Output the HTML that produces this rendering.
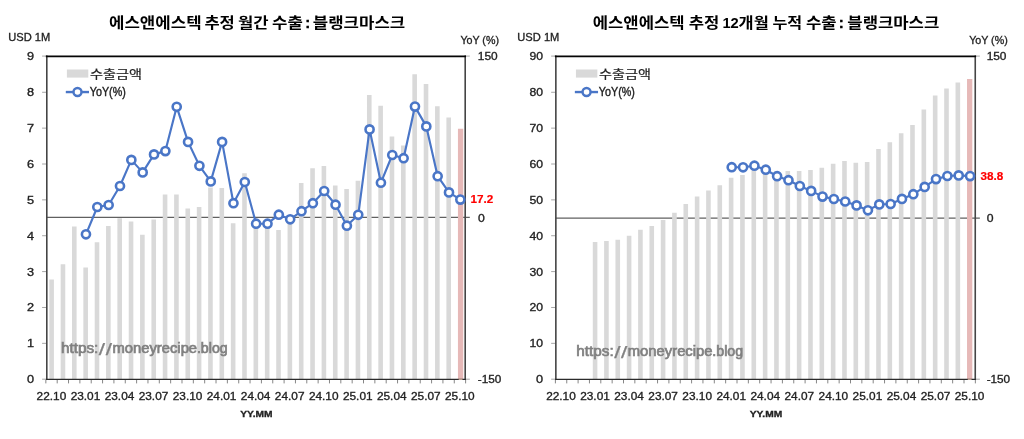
<!DOCTYPE html>
<html lang="ko"><head><meta charset="utf-8"><title>에스앤에스텍 추정 수출 : 블랭크마스크</title>
<style>html,body{margin:0;padding:0;background:#fff}body{width:1024px;height:439px;overflow:hidden}svg{display:block}text{white-space:pre}</style>
</head><body>
<svg width="1024" height="439" viewBox="0 0 1024 439" font-family='"Liberation Sans", "Noto Sans CJK KR", sans-serif'>
<rect width="1024" height="439" fill="#fff"/>
<g>
<line x1="46.7" y1="217.4" x2="469.8" y2="217.4" stroke="#606060" stroke-width="1.2"/>
<path d="M49.32 279.6h4.6V379.2h-4.6zM60.67 264.3h4.6V379.2h-4.6zM72.01 226.4h4.6V379.2h-4.6zM83.36 267.4h4.6V379.2h-4.6zM94.7 242.2h4.6V379.2h-4.6zM106.05 226h4.6V379.2h-4.6zM117.39 218.2h4.6V379.2h-4.6zM128.74 221.5h4.6V379.2h-4.6zM140.08 234.8h4.6V379.2h-4.6zM151.43 219.5h4.6V379.2h-4.6zM162.77 194.5h4.6V379.2h-4.6zM174.12 194.5h4.6V379.2h-4.6zM185.46 208.6h4.6V379.2h-4.6zM196.81 207h4.6V379.2h-4.6zM208.15 187.5h4.6V379.2h-4.6zM219.5 188h4.6V379.2h-4.6zM230.84 223.3h4.6V379.2h-4.6zM242.19 173.2h4.6V379.2h-4.6zM253.53 222h4.6V379.2h-4.6zM264.88 222h4.6V379.2h-4.6zM276.22 230h4.6V379.2h-4.6zM287.57 222h4.6V379.2h-4.6zM298.91 183h4.6V379.2h-4.6zM310.26 168.3h4.6V379.2h-4.6zM321.6 166h4.6V379.2h-4.6zM332.95 185.6h4.6V379.2h-4.6zM344.29 188.9h4.6V379.2h-4.6zM355.64 180.7h4.6V379.2h-4.6zM366.98 94.9h4.6V379.2h-4.6zM378.33 105.7h4.6V379.2h-4.6zM389.67 136.6h4.6V379.2h-4.6zM401.02 145.4h4.6V379.2h-4.6zM412.36 74.3h4.6V379.2h-4.6zM423.71 84.1h4.6V379.2h-4.6zM435.05 106.2h4.6V379.2h-4.6zM446.4 117.6h4.6V379.2h-4.6z" fill="#d9d9d9"/>
<path d="M457.94 128.8h5.3V379.2h-5.3z" fill="#e6b9b8"/>
<path d="M45.85 379.2v4.2M57.2 379.2v4.2M68.54 379.2v4.2M79.88 379.2v4.2M91.23 379.2v4.2M102.57 379.2v4.2M113.92 379.2v4.2M125.27 379.2v4.2M136.61 379.2v4.2M147.96 379.2v4.2M159.3 379.2v4.2M170.65 379.2v4.2M181.99 379.2v4.2M193.34 379.2v4.2M204.68 379.2v4.2M216.03 379.2v4.2M227.37 379.2v4.2M238.72 379.2v4.2M250.06 379.2v4.2M261.41 379.2v4.2M272.75 379.2v4.2M284.1 379.2v4.2M295.44 379.2v4.2M306.79 379.2v4.2M318.13 379.2v4.2M329.48 379.2v4.2M340.82 379.2v4.2M352.17 379.2v4.2M363.51 379.2v4.2M374.86 379.2v4.2M386.2 379.2v4.2M397.55 379.2v4.2M408.89 379.2v4.2M420.24 379.2v4.2M431.58 379.2v4.2M442.93 379.2v4.2M454.27 379.2v4.2M465.62 379.2v4.2" stroke="#868686" stroke-width="1" fill="none"/>
<path d="M42.1 379.2h4.6M42.1 343.33h4.6M42.1 307.47h4.6M42.1 271.6h4.6M42.1 235.73h4.6M42.1 199.87h4.6M42.1 164h4.6M42.1 128.13h4.6M42.1 92.27h4.6M42.1 56.1h4.6M465.2 56.1h4.6M465.2 379.2h4.6" stroke="#a6a6a6" stroke-width="1" fill="none"/>
<path d="M46.8 379.2V56.4M465.2 56.4V379.2" stroke="#454545" stroke-width="1.6" fill="none" stroke-linecap="square"/>
<path d="M46.7 56.3H465.2" stroke="#050505" stroke-width="1.7" fill="none" stroke-linecap="square"/>
<path d="M46.7 379.35H465.2" stroke="#2b2b2b" stroke-width="1.2" fill="none" stroke-linecap="square"/>
<rect x="458.69" y="378.6" width="3.8" height="1.3" fill="#c9a99a"/>
<polyline points="85.96,234.3 97.3,207 108.65,205 119.99,186 131.34,159.9 142.68,172.4 154.03,154.4 165.37,151.1 176.72,106.8 188.06,141.9 199.41,165.8 210.75,181.4 222.1,141.9 233.44,203.2 244.79,182 256.13,223.7 267.48,223.7 278.82,214.7 290.17,219.3 301.51,211.2 312.86,203.2 324.2,191 335.55,204.7 346.89,225.7 358.24,214.8 369.58,129.4 380.93,182.7 392.27,155 403.62,158.2 414.96,106.6 426.31,126.4 437.65,176.2 449,192.4 460.34,199.6" fill="none" stroke="#4a76c7" stroke-width="2.15" stroke-linejoin="round"/>
<g fill="#fff" stroke="#4a76c7" stroke-width="2.6">
<circle cx="85.96" cy="234.3" r="4.05"/>
<circle cx="97.3" cy="207" r="4.05"/>
<circle cx="108.65" cy="205" r="4.05"/>
<circle cx="119.99" cy="186" r="4.05"/>
<circle cx="131.34" cy="159.9" r="4.05"/>
<circle cx="142.68" cy="172.4" r="4.05"/>
<circle cx="154.03" cy="154.4" r="4.05"/>
<circle cx="165.37" cy="151.1" r="4.05"/>
<circle cx="176.72" cy="106.8" r="4.05"/>
<circle cx="188.06" cy="141.9" r="4.05"/>
<circle cx="199.41" cy="165.8" r="4.05"/>
<circle cx="210.75" cy="181.4" r="4.05"/>
<circle cx="222.1" cy="141.9" r="4.05"/>
<circle cx="233.44" cy="203.2" r="4.05"/>
<circle cx="244.79" cy="182" r="4.05"/>
<circle cx="256.13" cy="223.7" r="4.05"/>
<circle cx="267.48" cy="223.7" r="4.05"/>
<circle cx="278.82" cy="214.7" r="4.05"/>
<circle cx="290.17" cy="219.3" r="4.05"/>
<circle cx="301.51" cy="211.2" r="4.05"/>
<circle cx="312.86" cy="203.2" r="4.05"/>
<circle cx="324.2" cy="191" r="4.05"/>
<circle cx="335.55" cy="204.7" r="4.05"/>
<circle cx="346.89" cy="225.7" r="4.05"/>
<circle cx="358.24" cy="214.8" r="4.05"/>
<circle cx="369.58" cy="129.4" r="4.05"/>
<circle cx="380.93" cy="182.7" r="4.05"/>
<circle cx="392.27" cy="155" r="4.05"/>
<circle cx="403.62" cy="158.2" r="4.05"/>
<circle cx="414.96" cy="106.6" r="4.05"/>
<circle cx="426.31" cy="126.4" r="4.05"/>
<circle cx="437.65" cy="176.2" r="4.05"/>
<circle cx="449" cy="192.4" r="4.05"/>
<circle cx="460.34" cy="199.6" r="4.05"/>
</g>
<g font-family='"Liberation Sans", "Noto Sans CJK KR", sans-serif' fill="#222222">
<text x="26.92" y="383.1" font-size="11" stroke="#222222" stroke-width="0.33" textLength="7.08" lengthAdjust="spacingAndGlyphs">0</text>
<text x="26.92" y="347.23" font-size="11" stroke="#222222" stroke-width="0.33" textLength="7.08" lengthAdjust="spacingAndGlyphs">1</text>
<text x="26.92" y="311.37" font-size="11" stroke="#222222" stroke-width="0.33" textLength="7.08" lengthAdjust="spacingAndGlyphs">2</text>
<text x="26.92" y="275.5" font-size="11" stroke="#222222" stroke-width="0.33" textLength="7.08" lengthAdjust="spacingAndGlyphs">3</text>
<text x="26.92" y="239.63" font-size="11" stroke="#222222" stroke-width="0.33" textLength="7.08" lengthAdjust="spacingAndGlyphs">4</text>
<text x="26.92" y="203.77" font-size="11" stroke="#222222" stroke-width="0.33" textLength="7.08" lengthAdjust="spacingAndGlyphs">5</text>
<text x="26.92" y="167.9" font-size="11" stroke="#222222" stroke-width="0.33" textLength="7.08" lengthAdjust="spacingAndGlyphs">6</text>
<text x="26.92" y="132.03" font-size="11" stroke="#222222" stroke-width="0.33" textLength="7.08" lengthAdjust="spacingAndGlyphs">7</text>
<text x="26.92" y="96.17" font-size="11" stroke="#222222" stroke-width="0.33" textLength="7.08" lengthAdjust="spacingAndGlyphs">8</text>
<text x="26.92" y="60.3" font-size="11" stroke="#222222" stroke-width="0.33" textLength="7.08" lengthAdjust="spacingAndGlyphs">9</text>
<text x="477.8" y="60.1" font-size="11" stroke="#222222" stroke-width="0.33" textLength="19.85" lengthAdjust="spacingAndGlyphs">150</text>
<text x="478" y="221.5" font-size="11" stroke="#222222" stroke-width="0.33" textLength="6.8" lengthAdjust="spacingAndGlyphs">0</text>
<text x="477.8" y="382.6" font-size="11" stroke="#222222" stroke-width="0.33" textLength="23.52" lengthAdjust="spacingAndGlyphs">-150</text>
<text x="8.3" y="40.6" font-size="11.4" stroke="#222222" stroke-width="0.33" textLength="42" lengthAdjust="spacingAndGlyphs">USD 1M</text>
<text x="460.4" y="44.4" font-size="11.4" stroke="#222222" stroke-width="0.33" textLength="38.6" lengthAdjust="spacingAndGlyphs">YoY (%)</text>
<text x="36.62" y="399.6" font-size="11" stroke="#222222" stroke-width="0.33" textLength="29.6" lengthAdjust="spacingAndGlyphs">22.10</text>
<text x="70.66" y="399.6" font-size="11" stroke="#222222" stroke-width="0.33" textLength="29.6" lengthAdjust="spacingAndGlyphs">23.01</text>
<text x="104.69" y="399.6" font-size="11" stroke="#222222" stroke-width="0.33" textLength="29.6" lengthAdjust="spacingAndGlyphs">23.04</text>
<text x="138.73" y="399.6" font-size="11" stroke="#222222" stroke-width="0.33" textLength="29.6" lengthAdjust="spacingAndGlyphs">23.07</text>
<text x="172.76" y="399.6" font-size="11" stroke="#222222" stroke-width="0.33" textLength="29.6" lengthAdjust="spacingAndGlyphs">23.10</text>
<text x="206.8" y="399.6" font-size="11" stroke="#222222" stroke-width="0.33" textLength="29.6" lengthAdjust="spacingAndGlyphs">24.01</text>
<text x="240.83" y="399.6" font-size="11" stroke="#222222" stroke-width="0.33" textLength="29.6" lengthAdjust="spacingAndGlyphs">24.04</text>
<text x="274.87" y="399.6" font-size="11" stroke="#222222" stroke-width="0.33" textLength="29.6" lengthAdjust="spacingAndGlyphs">24.07</text>
<text x="308.9" y="399.6" font-size="11" stroke="#222222" stroke-width="0.33" textLength="29.6" lengthAdjust="spacingAndGlyphs">24.10</text>
<text x="342.94" y="399.6" font-size="11" stroke="#222222" stroke-width="0.33" textLength="29.6" lengthAdjust="spacingAndGlyphs">25.01</text>
<text x="376.97" y="399.6" font-size="11" stroke="#222222" stroke-width="0.33" textLength="29.6" lengthAdjust="spacingAndGlyphs">25.04</text>
<text x="411.01" y="399.6" font-size="11" stroke="#222222" stroke-width="0.33" textLength="29.6" lengthAdjust="spacingAndGlyphs">25.07</text>
<text x="445.04" y="399.6" font-size="11" stroke="#222222" stroke-width="0.33" textLength="29.6" lengthAdjust="spacingAndGlyphs">25.10</text>
<text x="240.25" y="416.8" font-size="9.2" stroke="#222222" stroke-width="0.33" font-weight="bold" textLength="32.4" lengthAdjust="spacingAndGlyphs">YY.MM</text>
<text x="470.4" y="203.2" font-size="11.4" stroke="#ff0000" stroke-width="0.2" font-weight="bold" fill="#ff0000" textLength="22.8" lengthAdjust="spacingAndGlyphs">17.2</text>
<text font-size="14.4" fill="#808080" stroke="#808080" stroke-width="0.7"><tspan x="60.9" y="352.8" textLength="37.4" lengthAdjust="spacingAndGlyphs">https:</tspan><tspan x="98.8" y="355.2" textLength="6.3" lengthAdjust="spacingAndGlyphs" font-size="17" stroke-width="0.25">/</tspan><tspan x="105.7" y="355.2" textLength="6.3" lengthAdjust="spacingAndGlyphs" font-size="17" stroke-width="0.25">/</tspan><tspan x="112.4" y="352.8" textLength="84.7" lengthAdjust="spacingAndGlyphs">moneyrecipe</tspan><tspan x="196.9" y="352.8" textLength="30.8" lengthAdjust="spacingAndGlyphs">.blog</tspan></text>
<rect x="66.9" y="69.5" width="21.4" height="8.1" fill="#d9d9d9"/>
<line x1="65.8" y1="92.05" x2="89" y2="92.05" stroke="#4a76c7" stroke-width="2.4"/>
<circle cx="77.5" cy="92.05" r="4" fill="#fff" stroke="#4a76c7" stroke-width="2.45"/>
<text x="90" y="79.4" font-size="12.2" stroke="#222222" stroke-width="0.2" textLength="52" lengthAdjust="spacingAndGlyphs">수출금액</text>
<text x="89.8" y="96.3" font-size="12" stroke="#222222" stroke-width="0.4" textLength="36" lengthAdjust="spacingAndGlyphs">YoY(%)</text>
<text font-size="14.9" font-weight="bold" fill="#000"><tspan x="109" y="27.6" textLength="92.6" lengthAdjust="spacingAndGlyphs">에스앤에스텍</tspan> <tspan x="204.4" y="27.6" textLength="30.4" lengthAdjust="spacingAndGlyphs">추정</tspan> <tspan x="238" y="27.6" textLength="30.6" lengthAdjust="spacingAndGlyphs">월간</tspan> <tspan x="272" y="27.6" textLength="30.8" lengthAdjust="spacingAndGlyphs">수출</tspan> <tspan x="305.2" y="27.6" textLength="5" lengthAdjust="spacingAndGlyphs" stroke="#000" stroke-width="0.4">:</tspan> <tspan x="312.8" y="27.6" textLength="92.4" lengthAdjust="spacingAndGlyphs">블랭크마스크</tspan></text>
</g>
</g>
<g>
<line x1="555.75" y1="218.15" x2="979.85" y2="218.15" stroke="#606060" stroke-width="1.2"/>
<path d="M592.78 242.1h4.6V379.2h-4.6zM604.12 241.1h4.6V379.2h-4.6zM615.46 239.8h4.6V379.2h-4.6zM626.79 235.7h4.6V379.2h-4.6zM638.13 229.8h4.6V379.2h-4.6zM649.46 225.9h4.6V379.2h-4.6zM660.8 220h4.6V379.2h-4.6zM672.14 212.7h4.6V379.2h-4.6zM683.47 203.9h4.6V379.2h-4.6zM694.81 196.4h4.6V379.2h-4.6zM706.14 190.5h4.6V379.2h-4.6zM717.48 185.3h4.6V379.2h-4.6zM728.82 177.7h4.6V379.2h-4.6zM740.15 175.1h4.6V379.2h-4.6zM751.49 170.5h4.6V379.2h-4.6zM762.83 171h4.6V379.2h-4.6zM774.16 171.2h4.6V379.2h-4.6zM785.5 171.1h4.6V379.2h-4.6zM796.83 170.9h4.6V379.2h-4.6zM808.17 170.1h4.6V379.2h-4.6zM819.51 167.8h4.6V379.2h-4.6zM830.84 163.7h4.6V379.2h-4.6zM842.18 161h4.6V379.2h-4.6zM853.51 162.7h4.6V379.2h-4.6zM864.85 161.9h4.6V379.2h-4.6zM876.19 149h4.6V379.2h-4.6zM887.52 142.3h4.6V379.2h-4.6zM898.86 133.2h4.6V379.2h-4.6zM910.19 125h4.6V379.2h-4.6zM921.53 109.6h4.6V379.2h-4.6zM932.87 95.6h4.6V379.2h-4.6zM944.2 88.4h4.6V379.2h-4.6zM955.54 82.5h4.6V379.2h-4.6z" fill="#d9d9d9"/>
<path d="M967.02 79h5.3V379.2h-5.3z" fill="#e6b9b8"/>
<path d="M555.4 379.2v4.2M566.75 379.2v4.2M578.1 379.2v4.2M589.45 379.2v4.2M600.8 379.2v4.2M612.15 379.2v4.2M623.5 379.2v4.2M634.85 379.2v4.2M646.2 379.2v4.2M657.55 379.2v4.2M668.9 379.2v4.2M680.25 379.2v4.2M691.6 379.2v4.2M702.95 379.2v4.2M714.3 379.2v4.2M725.65 379.2v4.2M737 379.2v4.2M748.35 379.2v4.2M759.7 379.2v4.2M771.05 379.2v4.2M782.4 379.2v4.2M793.75 379.2v4.2M805.1 379.2v4.2M816.45 379.2v4.2M827.8 379.2v4.2M839.15 379.2v4.2M850.5 379.2v4.2M861.85 379.2v4.2M873.2 379.2v4.2M884.55 379.2v4.2M895.9 379.2v4.2M907.25 379.2v4.2M918.6 379.2v4.2M929.95 379.2v4.2M941.3 379.2v4.2M952.65 379.2v4.2M964 379.2v4.2M975.35 379.2v4.2" stroke="#868686" stroke-width="1" fill="none"/>
<path d="M551.15 379.2h4.6M551.15 343.33h4.6M551.15 307.47h4.6M551.15 271.6h4.6M551.15 235.73h4.6M551.15 199.87h4.6M551.15 164h4.6M551.15 128.13h4.6M551.15 92.27h4.6M551.15 56.1h4.6M975.25 56.1h4.6M975.25 379.2h4.6" stroke="#a6a6a6" stroke-width="1" fill="none"/>
<path d="M555.85 379.2V56.4M975.25 56.4V379.2" stroke="#454545" stroke-width="1.6" fill="none" stroke-linecap="square"/>
<path d="M555.75 56.3H975.25" stroke="#050505" stroke-width="1.7" fill="none" stroke-linecap="square"/>
<path d="M555.75 379.35H975.25" stroke="#2b2b2b" stroke-width="1.2" fill="none" stroke-linecap="square"/>
<rect x="967.77" y="378.6" width="3.8" height="1.3" fill="#c9a99a"/>
<polyline points="731.72,167.2 743.07,167.3 754.42,165.7 765.77,169.7 777.12,176.2 788.47,180.2 799.82,186 811.17,190.9 822.52,196.6 833.88,199 845.22,201.5 856.57,205.4 867.92,210.3 879.27,204.4 890.62,204 901.97,198.9 913.32,194.2 924.67,186.9 936.02,179.1 947.38,176 958.72,175.4 970.07,176.1" fill="none" stroke="#4a76c7" stroke-width="2.15" stroke-linejoin="round"/>
<g fill="#fff" stroke="#4a76c7" stroke-width="2.6">
<circle cx="731.72" cy="167.2" r="4.05"/>
<circle cx="743.07" cy="167.3" r="4.05"/>
<circle cx="754.42" cy="165.7" r="4.05"/>
<circle cx="765.77" cy="169.7" r="4.05"/>
<circle cx="777.12" cy="176.2" r="4.05"/>
<circle cx="788.47" cy="180.2" r="4.05"/>
<circle cx="799.82" cy="186" r="4.05"/>
<circle cx="811.17" cy="190.9" r="4.05"/>
<circle cx="822.52" cy="196.6" r="4.05"/>
<circle cx="833.88" cy="199" r="4.05"/>
<circle cx="845.22" cy="201.5" r="4.05"/>
<circle cx="856.57" cy="205.4" r="4.05"/>
<circle cx="867.92" cy="210.3" r="4.05"/>
<circle cx="879.27" cy="204.4" r="4.05"/>
<circle cx="890.62" cy="204" r="4.05"/>
<circle cx="901.97" cy="198.9" r="4.05"/>
<circle cx="913.32" cy="194.2" r="4.05"/>
<circle cx="924.67" cy="186.9" r="4.05"/>
<circle cx="936.02" cy="179.1" r="4.05"/>
<circle cx="947.38" cy="176" r="4.05"/>
<circle cx="958.72" cy="175.4" r="4.05"/>
<circle cx="970.07" cy="176.1" r="4.05"/>
</g>
<g font-family='"Liberation Sans", "Noto Sans CJK KR", sans-serif' fill="#222222">
<text x="535.97" y="383.1" font-size="11" stroke="#222222" stroke-width="0.33" textLength="7.08" lengthAdjust="spacingAndGlyphs">0</text>
<text x="529.48" y="347.23" font-size="11" stroke="#222222" stroke-width="0.33" textLength="13.57" lengthAdjust="spacingAndGlyphs">10</text>
<text x="529.48" y="311.37" font-size="11" stroke="#222222" stroke-width="0.33" textLength="13.57" lengthAdjust="spacingAndGlyphs">20</text>
<text x="529.48" y="275.5" font-size="11" stroke="#222222" stroke-width="0.33" textLength="13.57" lengthAdjust="spacingAndGlyphs">30</text>
<text x="529.48" y="239.63" font-size="11" stroke="#222222" stroke-width="0.33" textLength="13.57" lengthAdjust="spacingAndGlyphs">40</text>
<text x="529.48" y="203.77" font-size="11" stroke="#222222" stroke-width="0.33" textLength="13.57" lengthAdjust="spacingAndGlyphs">50</text>
<text x="529.48" y="167.9" font-size="11" stroke="#222222" stroke-width="0.33" textLength="13.57" lengthAdjust="spacingAndGlyphs">60</text>
<text x="529.48" y="132.03" font-size="11" stroke="#222222" stroke-width="0.33" textLength="13.57" lengthAdjust="spacingAndGlyphs">70</text>
<text x="529.48" y="96.17" font-size="11" stroke="#222222" stroke-width="0.33" textLength="13.57" lengthAdjust="spacingAndGlyphs">80</text>
<text x="529.48" y="60.3" font-size="11" stroke="#222222" stroke-width="0.33" textLength="13.57" lengthAdjust="spacingAndGlyphs">90</text>
<text x="986.65" y="60.1" font-size="11" stroke="#222222" stroke-width="0.33" textLength="19.85" lengthAdjust="spacingAndGlyphs">150</text>
<text x="986.85" y="221.7" font-size="11" stroke="#222222" stroke-width="0.33" textLength="6.8" lengthAdjust="spacingAndGlyphs">0</text>
<text x="986.65" y="382.6" font-size="11" stroke="#222222" stroke-width="0.33" textLength="23.52" lengthAdjust="spacingAndGlyphs">-150</text>
<text x="517.35" y="40.6" font-size="11.4" stroke="#222222" stroke-width="0.33" textLength="42" lengthAdjust="spacingAndGlyphs">USD 1M</text>
<text x="969.15" y="44.4" font-size="11.4" stroke="#222222" stroke-width="0.33" textLength="38.6" lengthAdjust="spacingAndGlyphs">YoY (%)</text>
<text x="546.17" y="399.6" font-size="11" stroke="#222222" stroke-width="0.33" textLength="29.6" lengthAdjust="spacingAndGlyphs">22.10</text>
<text x="580.23" y="399.6" font-size="11" stroke="#222222" stroke-width="0.33" textLength="29.6" lengthAdjust="spacingAndGlyphs">23.01</text>
<text x="614.27" y="399.6" font-size="11" stroke="#222222" stroke-width="0.33" textLength="29.6" lengthAdjust="spacingAndGlyphs">23.04</text>
<text x="648.33" y="399.6" font-size="11" stroke="#222222" stroke-width="0.33" textLength="29.6" lengthAdjust="spacingAndGlyphs">23.07</text>
<text x="682.38" y="399.6" font-size="11" stroke="#222222" stroke-width="0.33" textLength="29.6" lengthAdjust="spacingAndGlyphs">23.10</text>
<text x="716.42" y="399.6" font-size="11" stroke="#222222" stroke-width="0.33" textLength="29.6" lengthAdjust="spacingAndGlyphs">24.01</text>
<text x="750.48" y="399.6" font-size="11" stroke="#222222" stroke-width="0.33" textLength="29.6" lengthAdjust="spacingAndGlyphs">24.04</text>
<text x="784.52" y="399.6" font-size="11" stroke="#222222" stroke-width="0.33" textLength="29.6" lengthAdjust="spacingAndGlyphs">24.07</text>
<text x="818.58" y="399.6" font-size="11" stroke="#222222" stroke-width="0.33" textLength="29.6" lengthAdjust="spacingAndGlyphs">24.10</text>
<text x="852.62" y="399.6" font-size="11" stroke="#222222" stroke-width="0.33" textLength="29.6" lengthAdjust="spacingAndGlyphs">25.01</text>
<text x="886.67" y="399.6" font-size="11" stroke="#222222" stroke-width="0.33" textLength="29.6" lengthAdjust="spacingAndGlyphs">25.04</text>
<text x="920.72" y="399.6" font-size="11" stroke="#222222" stroke-width="0.33" textLength="29.6" lengthAdjust="spacingAndGlyphs">25.07</text>
<text x="954.77" y="399.6" font-size="11" stroke="#222222" stroke-width="0.33" textLength="29.6" lengthAdjust="spacingAndGlyphs">25.10</text>
<text x="749.8" y="416.8" font-size="9.2" stroke="#222222" stroke-width="0.33" font-weight="bold" textLength="32.4" lengthAdjust="spacingAndGlyphs">YY.MM</text>
<text x="980.45" y="180" font-size="11.4" stroke="#ff0000" stroke-width="0.2" font-weight="bold" fill="#ff0000" textLength="22.8" lengthAdjust="spacingAndGlyphs">38.8</text>
<text font-size="14.4" fill="#808080" stroke="#808080" stroke-width="0.7"><tspan x="576.3" y="355.5" textLength="37.4" lengthAdjust="spacingAndGlyphs">https:</tspan><tspan x="614.2" y="357.9" textLength="6.3" lengthAdjust="spacingAndGlyphs" font-size="17" stroke-width="0.25">/</tspan><tspan x="621.1" y="357.9" textLength="6.3" lengthAdjust="spacingAndGlyphs" font-size="17" stroke-width="0.25">/</tspan><tspan x="627.8" y="355.5" textLength="84.7" lengthAdjust="spacingAndGlyphs">moneyrecipe</tspan><tspan x="712.3" y="355.5" textLength="30.8" lengthAdjust="spacingAndGlyphs">.blog</tspan></text>
<rect x="575.95" y="69.5" width="21.4" height="8.1" fill="#d9d9d9"/>
<line x1="574.85" y1="92.05" x2="598.05" y2="92.05" stroke="#4a76c7" stroke-width="2.4"/>
<circle cx="586.55" cy="92.05" r="4" fill="#fff" stroke="#4a76c7" stroke-width="2.45"/>
<text x="599.05" y="79.4" font-size="12.2" stroke="#222222" stroke-width="0.2" textLength="52" lengthAdjust="spacingAndGlyphs">수출금액</text>
<text x="598.85" y="96.3" font-size="12" stroke="#222222" stroke-width="0.4" textLength="36" lengthAdjust="spacingAndGlyphs">YoY(%)</text>
<text font-size="14.9" font-weight="bold" fill="#000"><tspan x="592.7" y="27.6" textLength="92" lengthAdjust="spacingAndGlyphs">에스앤에스텍</tspan> <tspan x="688.7" y="27.6" textLength="30.6" lengthAdjust="spacingAndGlyphs">추정</tspan> <tspan x="722.4" y="28.2" textLength="16.4" lengthAdjust="spacingAndGlyphs" font-size="14.4">12</tspan><tspan x="738.6" y="27.6" textLength="30.2" lengthAdjust="spacingAndGlyphs">개월</tspan> <tspan x="772.4" y="27.6" textLength="29.8" lengthAdjust="spacingAndGlyphs">누적</tspan> <tspan x="806" y="27.6" textLength="30.6" lengthAdjust="spacingAndGlyphs">수출</tspan> <tspan x="838.8" y="27.6" textLength="5" lengthAdjust="spacingAndGlyphs" stroke="#000" stroke-width="0.4">:</tspan> <tspan x="847.3" y="27.6" textLength="92" lengthAdjust="spacingAndGlyphs">블랭크마스크</tspan></text>
</g>
</g>
</svg></body></html>
